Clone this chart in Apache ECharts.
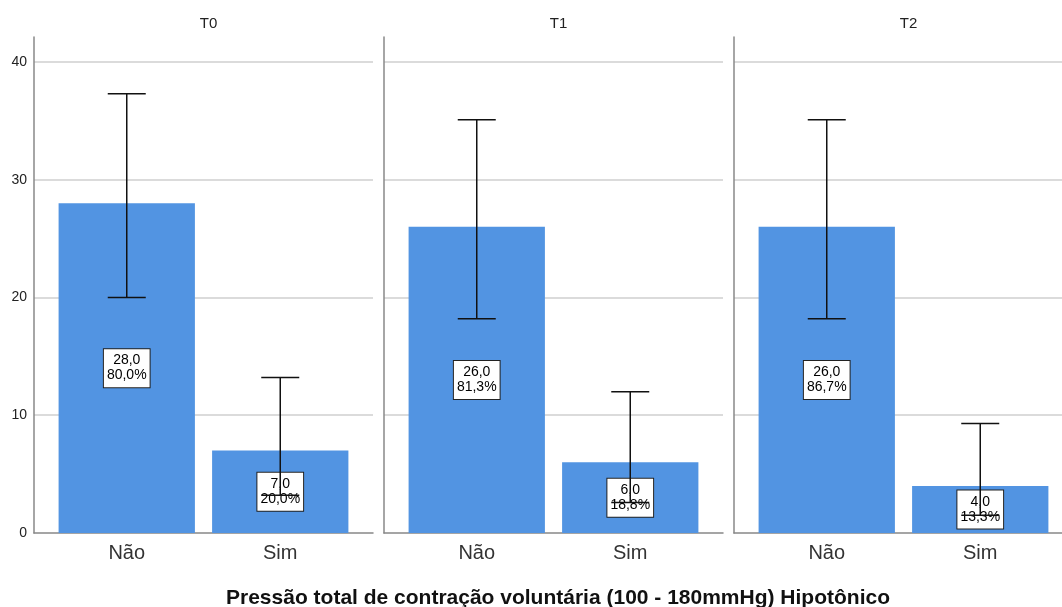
<!DOCTYPE html>
<html><head><meta charset="utf-8">
<script src="https://cdn.jsdelivr.net/npm/echarts@6/dist/echarts.min.js"></script>
<style>html,body{margin:0;padding:0;background:#fff}#c{width:1062px;height:607px}</style>
</head><body><div id="c"></div>
<script>
const panels = ['T0', 'T1', 'T2'];
const categories = ['Não', 'Sim'];
const counts = [[28, 7], [26, 6], [26, 4]];
const percents = [['80,0%', '20,0%'], ['81,3%', '18,8%'], ['86,7%', '13,3%']];
const ciLow = [[20.0, 3.2], [18.2, 2.6], [18.2, 1.5]];
const ciHigh = [[37.3, 13.2], [35.1, 12.0], [35.1, 9.3]];
const yTicks = [0, 10, 20, 30, 40];
const xTitle = 'Pressão total de contração voluntária (100 - 180mmHg) Hipotônico';

const FONT = 'Liberation Sans, Arial, sans-serif';
const YMAX = 42.12;
const TOP = 37, H = 496, STEP = 350;
const grid = [], xAxis = [], yAxis = [], series = [], title = [];

panels.forEach((p, i) => {
  grid.push({left: 34 + STEP * i, top: TOP, width: 339, height: H});
  grid.push({left: 50 + STEP * i, top: TOP, width: 307, height: H});
  const fg = 2 * i, bg = 2 * i + 1;
  xAxis.push({type: 'value', gridIndex: fg, min: 0, max: 1,
    axisLine: {show: true, lineStyle: {color: '#888', width: 1.5}},
    axisTick: {show: false}, axisLabel: {show: false}, splitLine: {show: false}});
  xAxis.push({type: 'category', gridIndex: bg, data: categories,
    axisLine: {show: false}, axisTick: {show: false},
    axisLabel: {color: '#333', fontSize: 20, fontFamily: FONT, margin: 10}});
  yAxis.push({type: 'value', gridIndex: fg, min: 0, max: YMAX, interval: 10,
    axisLine: {show: true, lineStyle: {color: '#888', width: 1.5}},
    axisTick: {show: false},
    axisLabel: {show: i === 0, color: '#222', fontSize: 14, fontFamily: FONT, margin: 7,
      showMaxLabel: false,
      formatter: v => yTicks.includes(v) ? String(v) : ''},
    splitLine: {show: true, showMaxLine: false, showMinLine: false,
      lineStyle: {color: '#cfcfcf', width: 1.5}}});
  yAxis.push({type: 'value', gridIndex: bg, min: 0, max: YMAX, show: false,
    splitLine: {show: false}});

  series.push({type: 'bar', xAxisIndex: 2 * i + 1, yAxisIndex: 2 * i + 1,
    data: counts[i], barWidth: '88.8%', z: 2,
    itemStyle: {color: '#5294e2'},
    label: {show: true, position: 'inside', color: '#000', fontSize: 14,
      fontFamily: FONT, lineHeight: 15, backgroundColor: '#fff',
      borderColor: '#222', borderWidth: 1, padding: [4, 3, 4, 3], align: 'center',
      formatter: pr => counts[i][pr.dataIndex].toFixed(1).replace('.', ',') + '\n' + percents[i][pr.dataIndex]}});

  series.push({type: 'custom', xAxisIndex: 2 * i + 1, yAxisIndex: 2 * i + 1, z: 10,
    data: categories.map((c, k) => [k, ciLow[i][k], ciHigh[i][k]]),
    renderItem: (params, api) => {
      const lo = api.coord([api.value(0), api.value(1)]);
      const hi = api.coord([api.value(0), api.value(2)]);
      const hw = 19;
      const st = {stroke: '#111', lineWidth: 1.5};
      return {type: 'group', children: [
        {type: 'line', shape: {x1: lo[0], y1: lo[1], x2: hi[0], y2: hi[1]}, style: st},
        {type: 'line', shape: {x1: lo[0] - hw, y1: lo[1], x2: lo[0] + hw, y2: lo[1]}, style: st},
        {type: 'line', shape: {x1: hi[0] - hw, y1: hi[1], x2: hi[0] + hw, y2: hi[1]}, style: st}
      ]};
    }});

  title.push({text: p, left: 34 + STEP * i + 169.5, top: 11, textAlign: 'center',
    textStyle: {fontSize: 15, fontWeight: 'normal', color: '#222', fontFamily: FONT}});
});

title.push({text: xTitle, left: 553, top: 583, textAlign: 'center',
  textStyle: {fontSize: 21, fontWeight: 'bold', color: '#111', fontFamily: FONT}});

const chart = echarts.init(document.getElementById('c'), null, {renderer: 'canvas'});
chart.setOption({animation: false, backgroundColor: '#fff', title, grid, xAxis, yAxis, series});
</script></body></html>
